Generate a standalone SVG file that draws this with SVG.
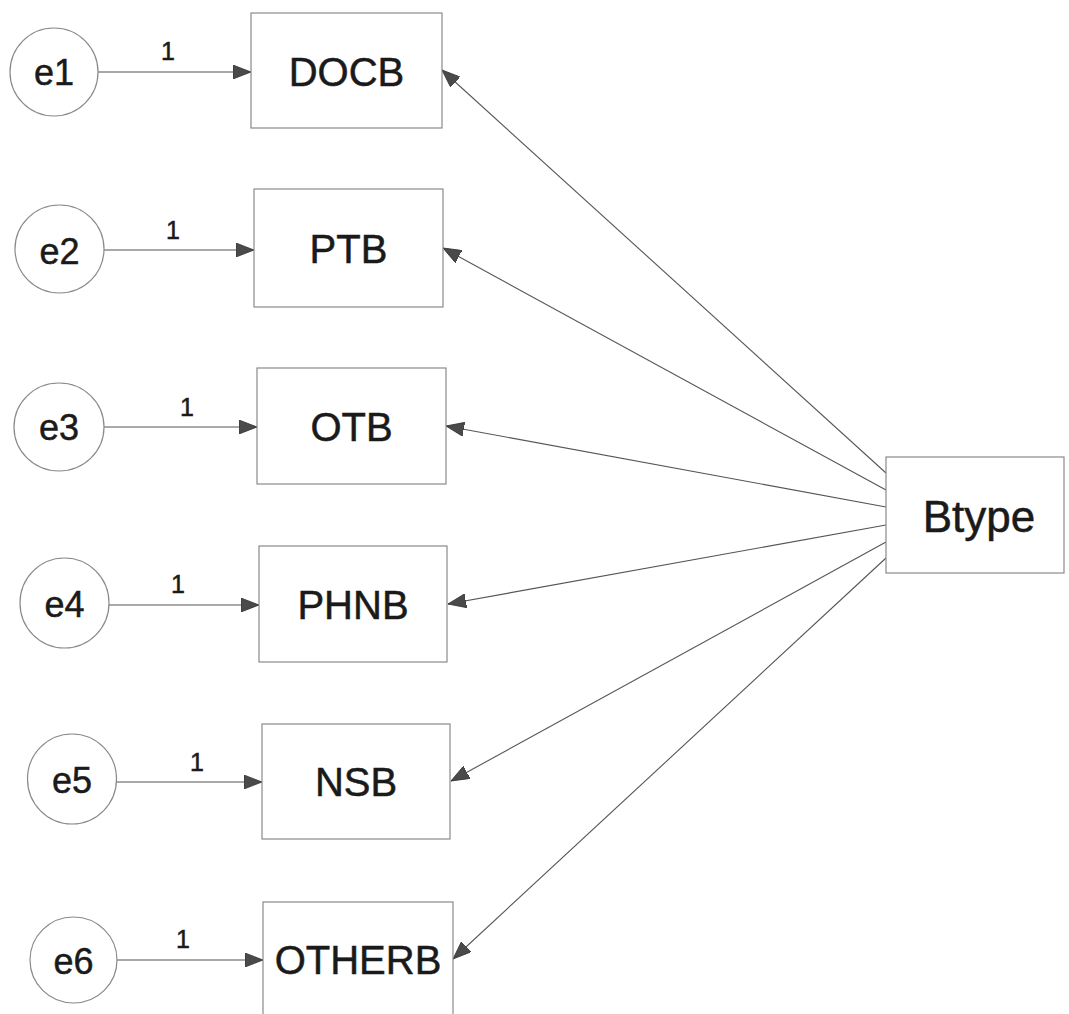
<svg xmlns="http://www.w3.org/2000/svg" width="1069" height="1014" viewBox="0 0 1069 1014">
<style>
.bg{fill:#fff}
.obs{fill:#fff;stroke:#8a8a8a;stroke-width:1.2}
.err{fill:#fff;stroke:#8a8a8a;stroke-width:1.2}
.lbl{font-family:"Liberation Sans",Arial,sans-serif;fill:#1a1a1a;stroke:#1a1a1a;stroke-width:0.5;text-anchor:middle}
.big{font-size:40px}
.mid{font-size:36px}
.one{font-size:25px}
.bt{font-size:44px}
.edge{stroke:#555;stroke-width:1.1;fill:none;marker-end:url(#ah)}
</style>
<defs>
<marker id="ah" markerUnits="userSpaceOnUse" markerWidth="20" markerHeight="14" refX="18" refY="7" orient="auto">
<path d="M0,0 L18,7 L0,14 Z" fill="#4a4a4a" stroke="#333" stroke-width="0.8"/>
</marker>
</defs>
<rect class="bg" x="0" y="0" width="1069" height="1014"/>
<g id="connectors">
<line class="edge" x1="98" y1="72" x2="251" y2="72"/>
<line class="edge" x1="104" y1="250" x2="254" y2="250"/>
<line class="edge" x1="104" y1="427" x2="257" y2="427"/>
<line class="edge" x1="109" y1="605" x2="259" y2="605"/>
<line class="edge" x1="117" y1="782" x2="262" y2="782"/>
<line class="edge" x1="117" y1="960" x2="263" y2="960"/>
<line class="edge" x1="886" y1="473" x2="442" y2="70"/>
<line class="edge" x1="886" y1="490" x2="443" y2="248"/>
<line class="edge" x1="886" y1="507" x2="446" y2="426"/>
<line class="edge" x1="886" y1="525" x2="448" y2="604"/>
<line class="edge" x1="886" y1="542" x2="451" y2="781"/>
<line class="edge" x1="886" y1="558" x2="453" y2="959"/>
<text class="lbl one" x="168" y="60">1</text>
<text class="lbl one" x="173" y="239">1</text>
<text class="lbl one" x="187" y="416">1</text>
<text class="lbl one" x="178" y="593">1</text>
<text class="lbl one" x="197" y="771">1</text>
<text class="lbl one" x="183" y="948">1</text>
</g>
<g id="e1"><ellipse class="err" cx="54" cy="72" rx="44" ry="44"/><text class="lbl mid" x="54" y="85">e1</text></g>
<g id="e2"><ellipse class="err" cx="59.5" cy="249" rx="44.5" ry="44"/><text class="lbl mid" x="59.5" y="264">e2</text></g>
<g id="e3"><ellipse class="err" cx="59" cy="427" rx="45" ry="44"/><text class="lbl mid" x="59" y="440">e3</text></g>
<g id="e4"><ellipse class="err" cx="64.5" cy="603" rx="44.5" ry="45"/><text class="lbl mid" x="64.5" y="617">e4</text></g>
<g id="e5"><ellipse class="err" cx="72" cy="779" rx="44.5" ry="45"/><text class="lbl mid" x="72" y="793">e5</text></g>
<g id="e6"><ellipse class="err" cx="73.5" cy="960" rx="43.5" ry="43"/><text class="lbl mid" x="73.5" y="974">e6</text></g>
<g id="DOCB"><rect class="obs" x="251" y="13" width="191" height="115"/><text class="lbl big" x="346.5" y="86">DOCB</text></g>
<g id="PTB"><rect class="obs" x="254" y="189" width="189" height="118"/><text class="lbl big" x="348.5" y="263">PTB</text></g>
<g id="OTB"><rect class="obs" x="257" y="368" width="189" height="116"/><text class="lbl big" x="351.5" y="441">OTB</text></g>
<g id="PHNB"><rect class="obs" x="259" y="546" width="188" height="116"/><text class="lbl big" x="353" y="619">PHNB</text></g>
<g id="NSB"><rect class="obs" x="262" y="724" width="188" height="115"/><text class="lbl big" x="356" y="796">NSB</text></g>
<g id="OTHERB"><rect class="obs" x="263" y="902" width="190" height="120"/><text class="lbl big" x="358" y="974">OTHERB</text></g>
<g id="Btype"><rect class="obs" x="886" y="457" width="178" height="116"/><text class="lbl bt" x="979" y="532">Btype</text></g>
</svg>
